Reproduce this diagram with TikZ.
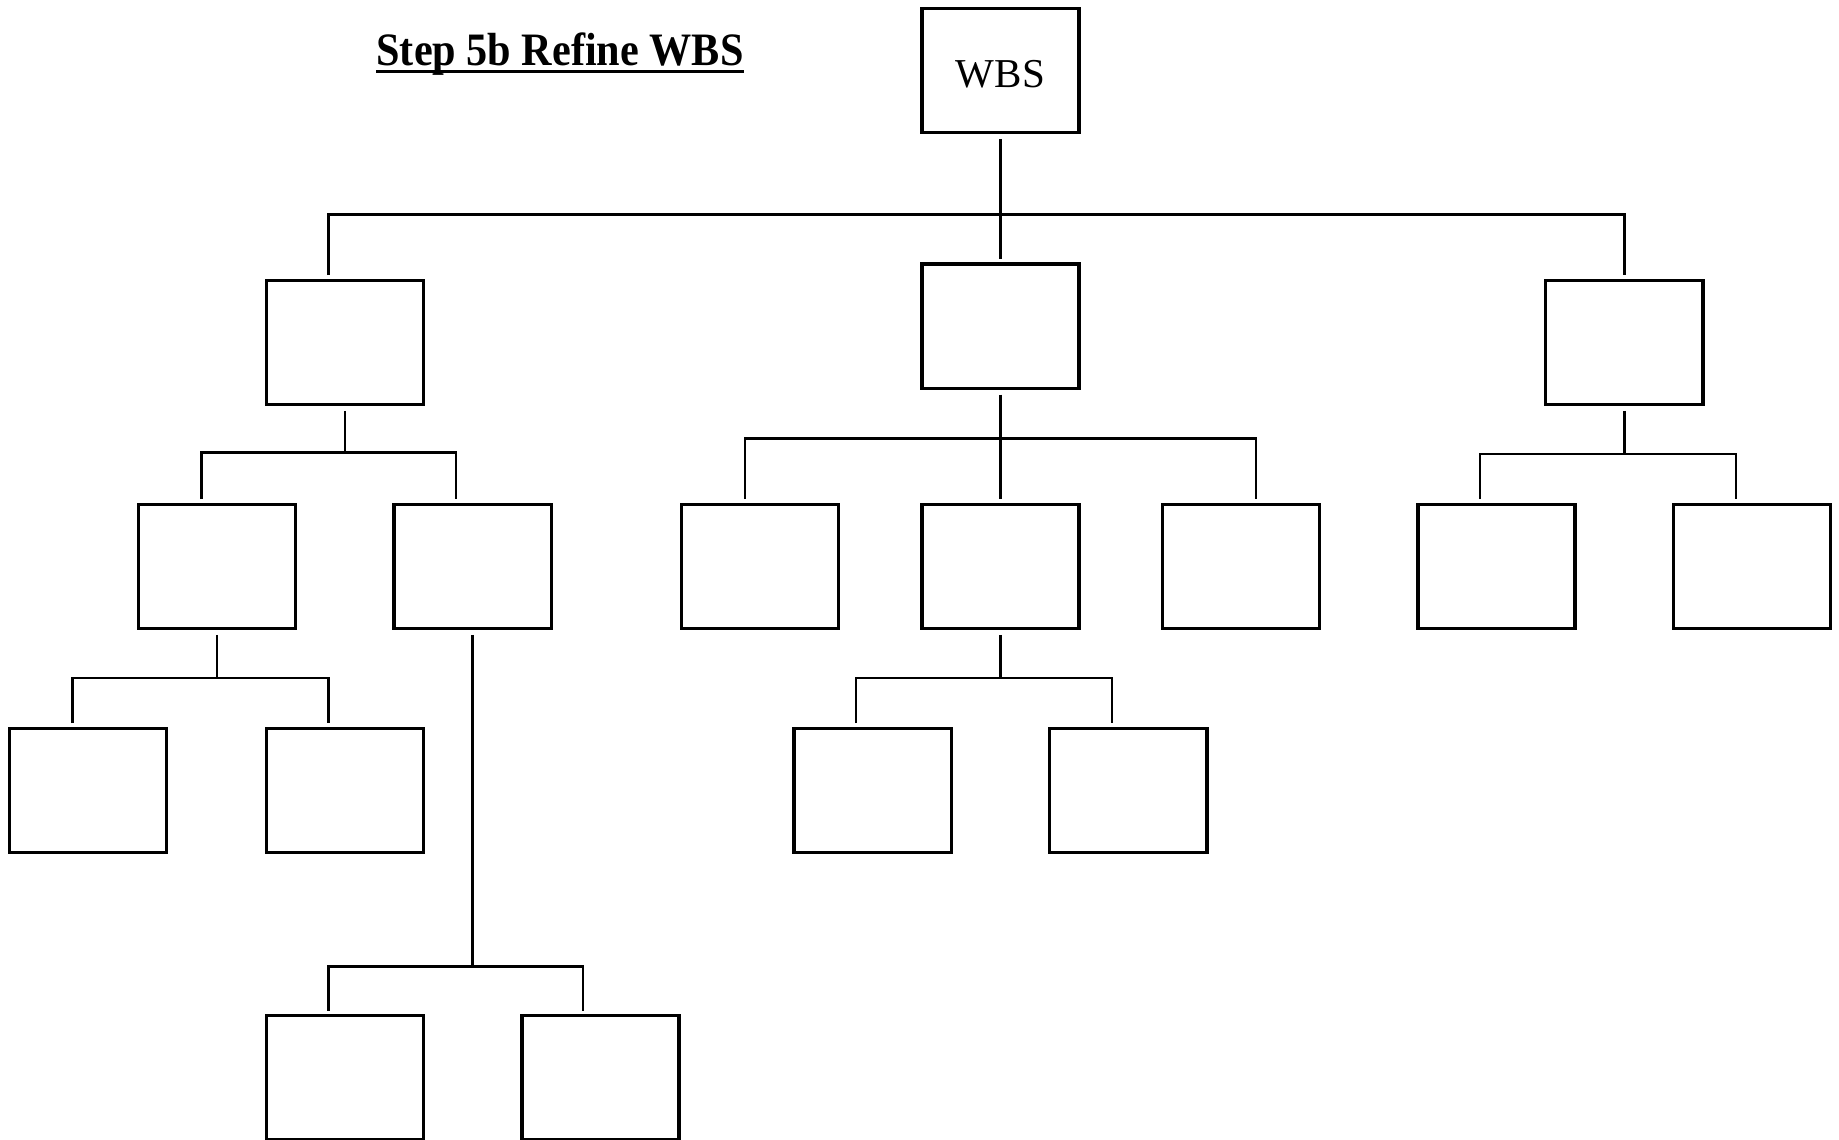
\documentclass[tikz,border=0pt]{standalone}
\usepackage{fontspec}
\setmainfont{Liberation Serif}

\tikzset{
  wbsbox/.style={draw, line width=2.8pt, minimum width=134pt, minimum height=106pt, inner sep=0pt},
  link/.style={line width=2.1pt},
}

\begin{document}
\begin{tikzpicture}[x=1pt, y=1pt]
  \useasboundingbox (0,0) rectangle (1568,-972);
  \clip (0,0) rectangle (1568,-972);
  % title
  \node[anchor=base, inner sep=0pt, font=\fontsize{36}{40}\selectfont\bfseries] (title) at (477.5,-56) {\scalebox{1}[1.1]{Step 5b Refine WBS}};
  \draw[line width=2.8pt] ([yshift=-5pt]title.base west) -- ([yshift=-5pt]title.base east);

  % level 0
  \node[wbsbox, font=\fontsize{35}{40}\selectfont] (wbs) at (853,-60) {\raisebox{-3pt}[\height][0pt]{WBS}};
  % level 1
  \node[wbsbox] (a) at (294,-292) {};
  \node[wbsbox] (b) at (853,-278) {};
  \node[wbsbox] (c) at (1385,-292) {};
  % level 2
  \node[wbsbox] (aa) at (185,-483) {};
  \node[wbsbox] (ab) at (403,-483) {};
  \node[wbsbox] (ba) at (648,-483) {};
  \node[wbsbox] (bb) at (853,-483) {};
  \node[wbsbox] (bc) at (1058,-483) {};
  \node[wbsbox] (ca) at (1276,-483) {};
  \node[wbsbox] (cb) at (1494,-483) {};
  % level 3
  \node[wbsbox] (aaa) at (75,-674) {};
  \node[wbsbox] (aab) at (294,-674) {};
  \node[wbsbox] (bba) at (744,-674) {};
  \node[wbsbox] (bbb) at (962,-674) {};
  \node[wbsbox] (aba) at (294,-919) {};
  \node[wbsbox] (abb) at (512,-919) {};

  % connectors
  \coordinate (bus0) at (853,-183);
  \draw[link] ([yshift=-4pt]wbs.south) -- ([yshift=3pt]b.north);
  \draw[link] ([xshift=-14pt,yshift=3pt]a.north) |- (bus0) -| ([yshift=3pt]c.north);

  \coordinate (busa) at (294,-386);
  \draw[link] ([yshift=-4pt]a.south) -- (busa);
  \draw[link] ([xshift=-13pt,yshift=3pt]aa.north) |- (busa) -| ([xshift=-14pt,yshift=3pt]ab.north);

  \coordinate (busb) at (853,-374);
  \draw[link] ([yshift=-4pt]b.south) -- ([yshift=3pt]bb.north);
  \draw[link] ([xshift=-13pt,yshift=3pt]ba.north) |- (busb) -| ([xshift=13pt,yshift=3pt]bc.north);

  \coordinate (busc) at (1385,-387);
  \draw[link] ([yshift=-4pt]c.south) -- (busc);
  \draw[link] ([xshift=-14pt,yshift=3pt]ca.north) |- (busc) -| ([xshift=-14pt,yshift=3pt]cb.north);

  \coordinate (busaa) at (185,-578);
  \draw[link] ([yshift=-4pt]aa.south) -- (busaa);
  \draw[link] ([xshift=-13pt,yshift=3pt]aaa.north) |- (busaa) -| ([xshift=-14pt,yshift=3pt]aab.north);

  \coordinate (busab) at (403,-824);
  \draw[link] ([yshift=-4pt]ab.south) -- (busab);
  \draw[link] ([xshift=-14pt,yshift=3pt]aba.north) |- (busab) -| ([xshift=-15pt,yshift=3pt]abb.north);

  \coordinate (busbb) at (853,-578);
  \draw[link] ([yshift=-4pt]bb.south) -- (busbb);
  \draw[link] ([xshift=-14pt,yshift=3pt]bba.north) |- (busbb) -| ([xshift=-14pt,yshift=3pt]bbb.north);
\end{tikzpicture}
\end{document}
